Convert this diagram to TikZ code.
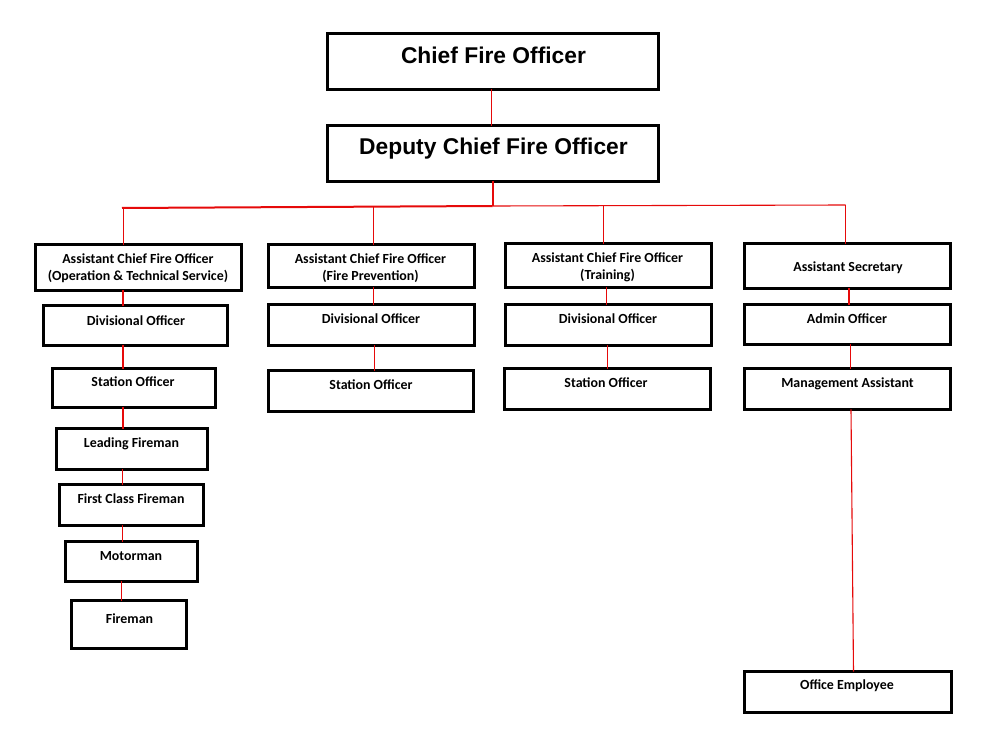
\documentclass[tikz,border=0pt]{standalone}
\usepackage{fontspec}
\setmainfont{Carlito}
\newfontfamily\arialfont{Liberation Sans}
\definecolor{linered}{RGB}{230,10,10}
\tikzset{
  obox/.style={draw=black, line width=3.2pt, fill=white, rectangle, inner sep=0pt, outer sep=0pt},
  stxt/.style={anchor=base, inner sep=0pt, font=\fontsize{13.9}{16}\selectfont\bfseries},
  btxt/.style={anchor=base, inner sep=0pt, font=\arialfont\fontsize{22.8}{27}\selectfont\bfseries},
  conn/.style={draw=linered, line width=1.1pt},
}
\newcommand\orgbox[5]{%
  \node[obox, minimum width={(#4-#2-3.2)*1pt}, minimum height={(#5-#3-3.2)*1pt}]
    (#1) at ({(#2+#4)/2},{(#3+#5)/2}) {};}
\begin{document}
\begin{tikzpicture}[x=1pt, y=-1pt]
\useasboundingbox[fill=white] (0,0) rectangle (986,733);
% boxes
\orgbox{chief}{326}{32}{660}{91}
\orgbox{deputy}{326}{124}{660}{183}
\orgbox{acfoA}{34}{243}{243}{292}
\orgbox{acfoB}{267}{243}{476}{289}
\orgbox{acfoC}{504}{242}{713}{289}
\orgbox{asec}{743}{242}{952}{290}
\orgbox{divA}{42}{304}{229}{347}
\orgbox{staA}{51}{367}{217}{409}
\orgbox{lead}{55}{427}{209}{471}
\orgbox{fcf}{58}{483}{205}{527}
\orgbox{motor}{64}{540}{199}{583}
\orgbox{fire}{70}{599}{188}{650}
\orgbox{divB}{267}{303}{476}{347}
\orgbox{staB}{267}{369}{475}{413}
\orgbox{divC}{504}{303}{713}{347}
\orgbox{staC}{503}{367}{712}{411}
\orgbox{admin}{743}{303}{952}{346}
\orgbox{mgmt}{743}{367}{952}{411}
\orgbox{office}{743}{670}{953}{714}
% texts
\node[btxt] (chiefT) at (493.5,64) {Chief Fire Officer};
\node[btxt] (deputyT) at (493.5,155) {Deputy Chief Fire Officer};
\node[stxt] (acfoAT) at (138,263) {Assistant Chief Fire Officer};
\node[stxt] (acfoAT2) at (138,280) {(Operation \& Technical Service)};
\node[stxt] (acfoBT) at (370.5,263) {Assistant Chief Fire Officer};
\node[stxt] (acfoBT2) at (370.5,280) {(Fire Prevention)};
\node[stxt] (acfoCT) at (607.5,262) {Assistant Chief Fire Officer};
\node[stxt] (acfoCT2) at (607.5,279) {(Training)};
\node[stxt] (asecT) at (848,271) {Assistant Secretary};
\node[stxt] (divAT) at (136,325) {Divisional Officer};
\node[stxt] (staAT) at (133,386) {Station Officer};
\node[stxt] (leadT) at (131.5,447) {Leading Fireman};
\node[stxt] (fcfT) at (131,503) {First Class Fireman};
\node[stxt] (motorT) at (131,560) {Motorman};
\node[stxt] (fireT) at (129.5,623) {Fireman};
\node[stxt] (divBT) at (371,323) {Divisional Officer};
\node[stxt] (staBT) at (371,389) {Station Officer};
\node[stxt] (divCT) at (608,323) {Divisional Officer};
\node[stxt] (staCT) at (606,387) {Station Officer};
\node[stxt] (adminT) at (847,323) {Admin Officer};
\node[stxt] (mgmtT) at (847.5,387) {Management Assistant};
\node[stxt] (officeT) at (847,689) {Office Employee};
% connector x positions
\coordinate (xTop) at (491.5,0);
\coordinate (busL) at (122,208);
\coordinate (busM) at (492.7,206);
\coordinate (busR) at (845.7,205);
\coordinate (sA) at (123.3,208);
\coordinate (sB) at (373.5,207);
\coordinate (sC) at (603.7,206);
\coordinate (cA) at (123,0);
\coordinate (cA2) at (122.5,0);
\coordinate (cA3) at (121.5,0);
\coordinate (cB) at (373.7,0);
\coordinate (cB2) at (374.5,0);
\coordinate (cC) at (606.7,0);
\coordinate (cC2) at (607.7,0);
\coordinate (cD) at (849,0);
\coordinate (cD2) at (850.3,0);
\coordinate (cD3) at (851,0);
\coordinate (cD4) at (853.5,0);
% connectors
\draw[conn] (chief.south -| xTop) -- (deputy.north -| xTop);
\draw[conn, line width=2pt] (deputy.south -| busM) -- (busM);
\draw[conn, line width=2pt] (busL) -- (busM);
\draw[conn] (busM) -- (busR);
\draw[conn] (sA) -- (acfoA.north -| sA);
\draw[conn] (sB) -- (acfoB.north -| sB);
\draw[conn] (sC) -- (acfoC.north -| sC);
\draw[conn] (busR) -- (asec.north -| busR);
\draw[conn] (acfoA.south -| cA) -- (divA.north -| cA);
\draw[conn] (divA.south -| cA) -- (staA.north -| cA);
\draw[conn] (staA.south -| cA) -- (lead.north -| cA);
\draw[conn] (lead.south -| cA2) -- (fcf.north -| cA2);
\draw[conn] (fcf.south -| cA2) -- (motor.north -| cA2);
\draw[conn] (motor.south -| cA3) -- (fire.north -| cA3);
\draw[conn] (acfoB.south -| cB) -- (divB.north -| cB);
\draw[conn] (divB.south -| cB2) -- (staB.north -| cB2);
\draw[conn] (acfoC.south -| cC) -- (divC.north -| cC);
\draw[conn] (divC.south -| cC2) -- (staC.north -| cC2);
\draw[conn] (asec.south -| cD) -- (admin.north -| cD);
\draw[conn] (admin.south -| cD2) -- (mgmt.north -| cD2);
\draw[conn] (mgmt.south -| cD3) -- (office.north -| cD4);
\end{tikzpicture}
\end{document}
